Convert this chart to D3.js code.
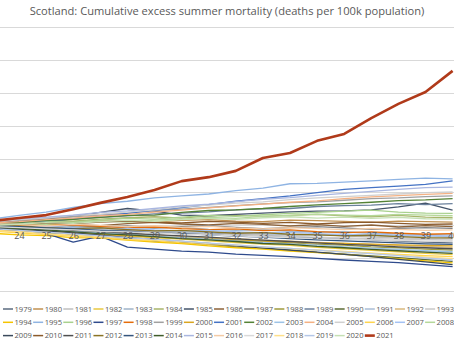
<!DOCTYPE html>
<html lang="en">
<head>
<meta charset="UTF-8">
<title>Scotland: Cumulative excess summer mortality</title>
<script src="https://d3js.org/d3.v7.min.js"></script>
<style>
  body { margin: 0; background: #fff; }
  svg { display: block; font-family: "Open Sans", sans-serif; }
</style>
</head>
<body>
<div id="chart"></div>
<script>
// week numbers of the data points and the axis labels
const weeks = [23, 24, 25, 26, 27, 28, 29, 30, 31, 32, 33, 34, 35, 36, 37, 38, 39, 40];
const tickWeeks = [24, 25, 26, 27, 28, 29, 30, 31, 32, 33, 34, 35, 36, 37, 38, 39, 40];

const years = [1979, 1980, 1981, 1982, 1983, 1984, 1985, 1986, 1987, 1988, 1989, 1990, 1991, 1992, 1993,
               1994, 1995, 1996, 1997, 1998, 1999, 2000, 2001, 2002, 2003, 2004, 2005, 2006, 2007, 2008,
               2009, 2010, 2011, 2012, 2013, 2014, 2015, 2016, 2017, 2018, 2019, 2020, 2021];

const lineColors = ["#5b6b7f", "#c09050", "#bfbfbf", "#e8c840", "#9fb3c8", "#a9b46a", "#44546a", "#8c6239",
                    "#808080", "#9e9a3c", "#6b819c", "#5b6b34", "#a8bdd6", "#d8b87c", "#c9c9c9",
                    "#f5c400", "#8fb4e3", "#a9d18e", "#2f4b8c", "#e46c0a", "#a0a0a0", "#d9a520", "#4472c4",
                    "#548235", "#9dc3e6", "#f4b183", "#d0d0d0", "#ffd54f", "#a4c2f4", "#b5d89a",
                    "#3b4a5c", "#8b5a2b", "#4f4f4f", "#8a7425", "#34557d", "#3f5c2a", "#aab7e0", "#f3cba5",
                    "#d9d9d9", "#ffe08a", "#b4c7e7", "#c5e0b4", "#b03a1a"];

// cumulative excess deaths per 100k, one row per year (weeks 23..40)
const values = [
  [0.2, -0.2, -0.6, -0.9, -1.0, -1.5, -1.8, -2.2, -2.5, -2.9, -3.1, -3.6, -3.9, -4.2, -4.5, -4.9, -5.2, -5.4],
  [0.5, 0.8, 0.6, 1.0, 1.3, 1.1, 0.9, 1.4, 1.6, 1.2, 1.0, 1.5, 1.3, 1.1, 0.8, 1.2, 1.0, 0.9],
  [-0.5, -0.8, -0.6, -1.2, -1.5, -1.3, -1.9, -2.2, -2.0, -2.6, -2.9, -3.1, -2.8, -3.3, -3.7, -3.9, -4.1, -4.2],
  [-1.0, -1.5, -2.0, -2.4, -2.8, -3.4, -3.9, -4.3, -4.8, -5.3, -5.8, -6.2, -6.8, -7.2, -7.7, -8.1, -8.6, -9.0],
  [0.0, -0.3, 0.1, -0.4, -0.2, -0.8, -1.0, -0.7, -1.3, -1.6, -1.4, -1.9, -2.2, -2.0, -2.5, -2.7, -2.9, -3.0],
  [0.8, 1.1, 1.5, 1.2, 1.8, 2.2, 2.5, 2.1, 2.8, 3.0, 2.6, 2.9, 3.2, 2.8, 2.5, 2.9, 2.4, 2.2],
  [0.6, 1.2, 1.8, 2.6, 3.8, 5.0, 4.2, 3.0, 2.8, 3.2, 3.6, 4.0, 4.2, 4.3, 4.6, 5.5, 6.6, 4.5],
  [-0.3, 0.2, 0.5, 0.1, -0.2, 0.4, 0.8, 0.3, 0.0, 0.5, 0.2, -0.3, 0.1, -0.4, 0.0, -0.6, -0.2, -0.5],
  [0.3, 0.0, -0.4, -0.1, -0.6, -0.3, -0.8, -0.5, -0.2, -0.7, -1.1, -0.8, -0.5, -0.9, -1.3, -1.0, -0.8, -1.0],
  [-0.8, -1.2, -1.6, -2.2, -2.5, -2.9, -3.5, -3.8, -4.1, -4.7, -5.0, -5.4, -5.9, -6.1, -6.6, -6.9, -7.3, -7.6],
  [0.4, 0.9, 1.2, 1.9, 2.3, 2.8, 3.4, 3.6, 4.0, 4.6, 4.9, 5.0, 5.6, 5.9, 6.0, 6.5, 6.2, 6.5],
  [-1.2, -1.8, -2.4, -3.1, -3.6, -4.2, -4.9, -5.3, -5.9, -6.6, -7.0, -7.6, -8.3, -8.8, -9.4, -9.9, -10.5, -11.0],
  [-0.6, -0.9, -1.2, -1.0, -1.6, -1.9, -1.7, -2.1, -2.4, -2.2, -2.6, -2.9, -3.0, -2.8, -3.2, -3.4, -3.3, -3.6],
  [-0.7, -1.1, -1.5, -2.0, -2.2, -2.8, -3.0, -3.5, -3.8, -4.1, -4.6, -4.9, -5.3, -5.6, -5.9, -6.2, -6.5, -6.8],
  [-0.2, -0.6, -0.9, -1.3, -1.5, -1.8, -2.3, -2.5, -2.7, -3.0, -3.2, -3.5, -3.7, -3.9, -4.1, -4.3, -4.4, -4.6],
  [-2.5, -3.0, -3.2, -3.8, -4.0, -4.6, -5.2, -5.6, -6.3, -6.9, -7.3, -7.9, -8.4, -8.9, -9.6, -10.2, -10.9, -11.5],
  [1.8, 2.9, 3.9, 5.3, 6.5, 7.2, 8.2, 8.8, 9.4, 10.4, 11.2, 12.5, 12.6, 13.0, 13.4, 13.8, 14.2, 14.0],
  [0.2, 0.6, 1.1, 0.9, 1.5, 2.0, 1.8, 2.4, 2.9, 2.6, 3.1, 3.5, 3.8, 4.2, 4.5, 3.9, 3.6, 3.5],
  [-1.2, -1.8, -2.6, -5.2, -3.4, -6.7, -7.3, -7.9, -8.2, -8.8, -9.2, -9.6, -10.1, -10.6, -11.0, -11.4, -12.0, -12.6],
  [0.1, -0.2, 0.3, 0.0, -0.4, -0.9, -0.6, -1.1, -1.4, -1.2, -1.7, -1.5, -2.0, -2.3, -2.1, -2.5, -2.8, -2.6],
  [0.9, 1.3, 2.0, 2.5, 3.0, 3.6, 4.4, 4.8, 5.3, 5.9, 6.4, 6.8, 7.0, 7.5, 8.0, 8.2, 8.6, 8.8],
  [-1.5, -1.9, -2.1, -2.6, -2.9, -3.2, -3.6, -3.9, -4.2, -4.5, -4.9, -5.1, -5.4, -5.6, -5.8, -6.0, -6.2, -6.3],
  [0.5, 0.9, 1.3, 1.8, 2.8, 3.5, 4.5, 5.3, 6.2, 7.2, 8.0, 8.8, 9.8, 10.8, 11.3, 11.8, 12.3, 13.4],
  [0.3, 0.8, 1.4, 1.7, 2.3, 2.9, 3.0, 3.8, 4.4, 4.6, 5.0, 5.6, 6.1, 6.5, 6.9, 7.4, 7.6, 8.0],
  [-0.4, -0.9, -1.3, -1.9, -2.4, -2.8, -3.4, -3.8, -4.3, -4.8, -5.3, -5.7, -6.1, -6.6, -7.0, -7.4, -7.8, -8.1],
  [0.6, 1.0, 1.6, 2.1, 2.8, 3.2, 3.9, 4.5, 5.2, 5.8, 6.3, 6.9, 7.3, 8.0, 8.5, 8.9, 9.3, 9.6],
  [1.0, 1.6, 2.2, 2.9, 3.3, 3.9, 4.6, 5.5, 6.0, 6.6, 7.0, 7.7, 8.2, 8.6, 9.0, 9.4, 9.8, 10.0],
  [-1.8, -2.4, -2.9, -3.3, -3.9, -4.4, -4.8, -5.3, -5.9, -6.3, -6.8, -7.2, -7.6, -8.1, -8.5, -8.9, -9.3, -9.6],
  [-0.1, -0.5, -0.4, -0.9, -1.1, -1.0, -1.5, -1.8, -1.6, -2.1, -2.3, -2.2, -2.6, -2.9, -2.7, -3.1, -3.2, -3.3],
  [0.1, 0.4, 0.2, 0.7, 1.2, 0.9, 1.5, 1.8, 2.3, 2.0, 2.6, 2.9, 3.3, 3.0, 2.8, 3.2, 3.0, 2.8],
  [-0.9, -1.3, -1.8, -2.4, -3.1, -3.8, -4.4, -5.0, -5.6, -6.3, -6.9, -7.6, -8.2, -8.9, -9.6, -10.4, -11.2, -12.0],
  [0.0, 0.3, 0.6, 0.4, 0.9, 1.2, 0.8, 0.6, 1.1, 0.9, 0.5, 0.8, 0.3, 0.7, 0.9, 0.5, 0.2, 0.3],
  [-0.3, -0.7, -1.0, -1.6, -1.9, -2.5, -2.9, -3.3, -3.7, -4.2, -4.6, -5.0, -5.4, -5.9, -6.2, -6.6, -6.9, -7.2],
  [-0.4, -0.3, -0.8, -1.1, -0.9, -1.4, -1.8, -1.6, -2.1, -2.5, -2.3, -2.8, -3.0, -3.3, -3.1, -3.5, -3.8, -3.9],
  [-0.2, -0.5, -0.9, -1.2, -1.6, -1.9, -2.4, -2.6, -3.0, -3.4, -3.7, -4.1, -4.5, -4.8, -5.1, -5.4, -5.7, -5.9],
  [-0.6, -1.1, -1.5, -2.1, -2.6, -3.0, -3.5, -4.1, -4.5, -5.0, -5.6, -5.9, -6.5, -6.9, -7.4, -7.8, -8.2, -8.6],
  [1.2, 1.9, 2.4, 3.0, 3.8, 4.3, 5.0, 5.8, 6.3, 7.1, 7.8, 8.3, 9.0, 9.6, 10.2, 10.8, 11.3, 11.5],
  [0.4, 0.1, -0.3, 0.2, -0.1, -0.5, -0.2, -0.7, -0.4, -0.9, -1.2, -0.8, -1.1, -1.4, -1.0, -1.3, -1.6, -1.5],
  [-0.5, -0.8, -1.2, -1.5, -1.9, -2.1, -2.4, -2.8, -3.0, -3.3, -3.6, -3.8, -4.1, -4.3, -4.5, -4.7, -4.9, -5.0],
  [-1.6, -2.0, -2.6, -3.1, -3.5, -4.1, -4.6, -5.0, -5.6, -6.1, -6.6, -7.1, -7.6, -8.0, -8.6, -9.1, -9.7, -10.2],
  [-1.1, -1.6, -2.2, -2.7, -3.3, -3.9, -4.3, -4.9, -5.5, -6.0, -6.6, -7.1, -7.6, -8.2, -8.7, -9.3, -10.0, -10.6],
  [-0.2, 0.3, 0.7, 0.5, 1.0, 1.4, 1.1, 1.6, 2.0, 1.7, 2.2, 2.5, 2.1, 2.4, 2.0, 2.3, 1.9, 1.8],
  [1.2, 2.1, 3.0, 4.8, 6.7, 8.5, 10.6, 13.3, 14.5, 16.4, 20.3, 21.8, 25.5, 27.6, 32.4, 36.7, 40.3, 46.7]
];

const width = 454, height = 341;

const svg = d3.select("#chart")
    .append("svg")
    .attr("width", width)
    .attr("height", height);

const x = d3.scaleLinear().domain([24, 40]).range([19, 452.6]);
const y = d3.scaleLinear().domain([-20, 60]).range([291, 27]);

// gridlines
svg.append("g")
    .selectAll("line")
    .data(y.ticks(8))
    .join("line")
    .attr("x1", 0)
    .attr("x2", width)
    .attr("y1", d => Math.round(y(d)) + 0.5)
    .attr("y2", d => Math.round(y(d)) + 0.5)
    .attr("stroke", "#d9d9d9")
    .attr("stroke-width", 1);

const line = d3.line()
    .x((d, i) => x(weeks[i]))
    .y(d => y(d));

svg.append("g")
    .selectAll("path")
    .data(values)
    .join("path")
    .attr("fill", "none")
    .attr("stroke", (d, i) => lineColors[i])
    .attr("stroke-width", (d, i) => years[i] === 2021 ? 2.6 : 1.3)
    .attr("stroke-linejoin", "round")
    .attr("d", line);

// category axis at zero, labels drawn over the lines
const xAxis = svg.append("g")
    .attr("transform", `translate(0,${y(0)})`)
    .call(d3.axisBottom(x).tickValues(tickWeeks).tickSize(0).tickPadding(8).tickFormat(d3.format("d")));
xAxis.select(".domain").remove();
xAxis.selectAll("text")
    .attr("fill", "#595959")
    .style("font-size", "9px")
    .style("font-family", "'Open Sans', sans-serif");

// title
const title = svg.append("text")
    .attr("x", width / 2)
    .attr("y", 15)
    .attr("text-anchor", "middle")
    .attr("fill", "#595959")
    .style("font-size", "12px")
    .text("Scotland: Cumulative excess summer mortality (deaths per 100k population)");
const tw = title.node().getComputedTextLength();
title.style("font-size", (12 * 395 / tw).toFixed(2) + "px");

// legend, 15 entries per row
const legend = svg.append("g")
    .selectAll("g")
    .data(years)
    .join("g")
    .attr("transform", (d, i) => `translate(${3 + (i % 15) * 30.15},${309 + Math.floor(i / 15) * 13.3})`);

legend.append("line")
    .attr("x1", 0)
    .attr("x2", 10)
    .attr("stroke", (d, i) => lineColors[i])
    .attr("stroke-width", d => d === 2021 ? 2.6 : 1.5);

legend.append("text")
    .attr("x", 11.5)
    .attr("dy", "0.35em")
    .attr("fill", "#595959")
    .style("font-size", "7.6px")
    .text(d => d);
</script>
</body>
</html>
